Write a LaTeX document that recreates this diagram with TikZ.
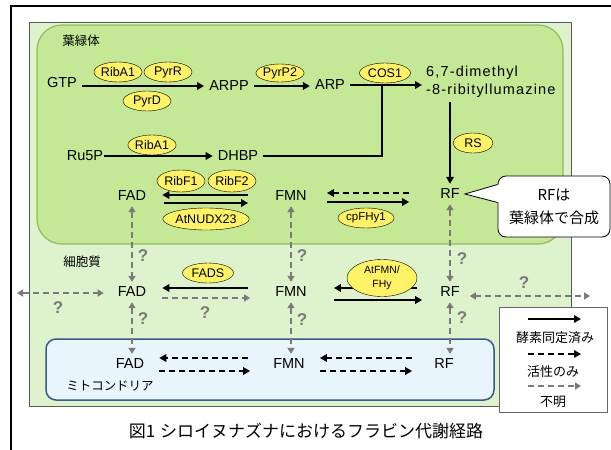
\documentclass[tikz,border=0pt]{standalone}
\usepackage{fontspec}
\setmainfont{Liberation Sans}
\newfontfamily\jpfont{Noto Sans CJK JP}
\usepackage{tikz}
\usetikzlibrary{shapes,arrows.meta,positioning,calc}
\definecolor{chloro}{HTML}{C5E896}
\definecolor{chloroedge}{HTML}{8DBE5E}
\definecolor{cyto}{HTML}{DEF3CD}
\definecolor{mito}{HTML}{E8F5FC}
\definecolor{mitoedge}{HTML}{3A5A8C}
\definecolor{enzyme}{HTML}{FFF266}
\definecolor{unk}{HTML}{7A7A7A}

\begin{document}
\begin{tikzpicture}[x=1pt, y=-1pt,
    met/.style={inner sep=5pt, font=\fontsize{14.5}{18}\selectfont},
    enz/.style={ellipse, draw, fill=enzyme, inner sep=0pt, minimum width=48pt, minimum height=20pt, font=\fontsize{12.5}{13}\selectfont},
    lbl/.style={font=\jpfont\fontsize{12.5}{15}\selectfont},
    qm/.style={font=\bfseries\fontsize{17}{17}\selectfont, text=unk},
    known/.style={line width=2pt, -{Triangle[length=7pt,width=7.5pt]}},
    active/.style={known, dash pattern=on 6pt off 4pt},
    unknown/.style={line width=2pt, draw=unk, dash pattern=on 6pt off 4pt, -{Triangle[length=6pt,width=7pt]}},
    unboth/.style={unknown, {Triangle[length=6pt,width=7pt]}-{Triangle[length=6pt,width=7pt]}}
]
    \useasboundingbox (0,0) rectangle (611,450);

    % Compartments
    \draw[line width=1.2pt] (11,450) -- (11,6) -- (611,6);
    \draw[draw=black!65, line width=0.8pt, fill=cyto] (29,22) rectangle (571,406);
    \draw[draw=chloroedge, line width=1.2pt, fill=chloro, rounded corners=25pt] (37,25) rectangle (563,244);
    \draw[draw=mitoedge, line width=1.5pt, fill=mito, rounded corners=10pt] (46,339) rectangle (494,400);
    \draw[draw=black!60, line width=0.8pt, fill=white] (499,307) rectangle (607,412);

    \node[lbl] (chlorolbl) at (81,41) {葉緑体};
    \node[lbl] (cytolbl) at (82,262) {細胞質};
    \node[lbl] (mitolbl) at (110,386) {ミトコンドリア};

    % Metabolites
    \node[met] (gtp) at (62,83) {GTP};
    \node[met] (arpp) at (229,86) {ARPP};
    \node[met] (arp) at (330,85) {ARP};
    \node[met, anchor=west, align=left, inner sep=4pt] (dml) at (422,82) {\addfontfeature{LetterSpace=8}6,7-dimethyl\\\addfontfeature{LetterSpace=8}-8-ribityllumazine};
    \node[met, inner sep=1pt] (ru5p) at (85,156) {Ru5P};
    \node[met] (dhbp) at (238,156) {DHBP};
    \node[met] (fad1) at (132,196) {FAD};
    \node[met] (fmn1) at (291,196) {FMN};
    \node[met] (rf1) at (450,194) {RF};
    \node[met] (fad2) at (132,292) {FAD};
    \node[met] (fmn2) at (291,292) {FMN};
    \node[met] (rf2) at (450,292) {RF};
    \node[met] (fad3) at (130,364) {FAD};
    \node[met] (fmn3) at (289,364) {FMN};
    \node[met] (rf3) at (444,364) {RF};
    \coordinate (merge) at (382,85);
    \coordinate (cytoL) at (17,293);
    \coordinate (cytoR) at (590,296);

    % Chloroplast pathway
    \draw[known] (gtp.east |- arpp) -- (arpp.west);
    \draw[known] (arpp.east) -- (arpp.east -| arp.west);
    \draw[known] (arp.east) -- (arp.east -| dml.west);
    \draw[line width=2pt] (dhbp.east) -| (merge);
    \draw[known] (ru5p.east) -- (dhbp.west);
    \draw[known] (dml.south -| rf1.north) -- (rf1.north);
    \draw[known] ([shift={(-22,-1)}]fmn1.west) -- ([shift={(11,-1)}]fad1.east);
    \draw[known] ([shift={(13,7)}]fad1.east) -- ([shift={(-22,7)}]fmn1.west);
    \draw[active] ([shift={(-26,-1)}]rf1.west) -- ([shift={(15,-3)}]fmn1.east);
    \draw[known] ([shift={(15,6)}]fmn1.east) -- ([shift={(-26,8)}]rf1.west);

    % Transport
    \draw[unboth] (fad1) -- (fad2);
    \draw[unboth] (fmn1) -- (fmn2);
    \draw[unboth] (rf1) -- (rf2);
    \draw[unboth] (fad2.south) -- (fad2.south |- fad3.north);
    \draw[unboth] (fmn2.south) -- (fmn2.south |- fmn3.north);
    \draw[unboth] (rf2.south) -- (rf2.south |- rf3.north);
    \draw[unboth] (cytoL) -- ([shift={(-9,1)}]fad2.west);
    \draw[unboth] ([shift={(5,4)}]rf2.east) -- (cytoR);

    % Cytoplasm
    \draw[known] ([shift={(-22,-4)}]fmn2.west) -- ([shift={(11,-4)}]fad2.east);
    \draw[unknown] ([shift={(11,6)}]fad2.east) -- ([shift={(-20,6)}]fmn2.west);
    \draw[known] ([shift={(-18,-4)}]rf2.west) -- ([shift={(22,-4)}]fmn2.east);
    \draw[known] ([shift={(22,8)}]fmn2.east) -- ([shift={(-13,8)}]rf2.west);

    % Mitochondria
    \draw[active] ([shift={(-20,-6)}]fmn3.west) -- ([shift={(10,-6)}]fad3.east);
    \draw[active] ([shift={(10,7)}]fad3.east) -- ([shift={(-18,7)}]fmn3.west);
    \draw[active] ([shift={(-17,-6)}]rf3.west) -- ([shift={(10,-6)}]fmn3.east);
    \draw[active] ([shift={(10,7)}]fmn3.east) -- ([shift={(-17,7)}]rf3.west);

    % Enzymes
    \node[enz] (riba1) at (118,72) {RibA1};
    \node[enz] (pyrr) at (168,72) {PyrR};
    \node[enz] (pyrd) at (147,101) {PyrD};
    \node[enz, minimum height=18pt] (pyrp2) at (280,73) {PyrP2};
    \node[enz, minimum width=51pt] (cos1) at (385,73) {COS1};
    \node[enz] (riba1b) at (152,145) {RibA1};
    \node[enz, minimum width=40pt] (rs) at (473,143) {RS};
    \node[enz, minimum height=22pt] (ribf1) at (181,181) {RibF1};
    \node[enz, minimum height=22pt] (ribf2) at (232,181) {RibF2};
    \node[enz, minimum width=86pt, minimum height=22pt] (atnudx) at (206,219) {AtNUDX23};
    \node[enz, minimum width=54pt, font=\fontsize{11.5}{12}\selectfont] (cpfhy) at (366,218) {cpFHy1};
    \node[enz, minimum width=51pt] (fads) at (208,273) {FADS};
    \node[enz, minimum width=70pt, minimum height=37pt, align=center, font=\fontsize{10.5}{14}\selectfont] (atfmn) at (382,278) {AtFMN/\\FHy};

    % Unknown steps
    \node[qm] (q1) at (143,256) {?};
    \node[qm] (q2) at (302,256) {?};
    \node[qm] (q3) at (462,259) {?};
    \node[qm] (q4) at (143,319) {?};
    \node[qm] (q5) at (302,320) {?};
    \node[qm] (q6) at (462,318) {?};
    \node[qm] (q7) at (58,308) {?};
    \node[qm] (q8) at (205,313) {?};
    \node[qm] (q9) at (524,283) {?};

    % Note
    \node[draw, fill=white, line width=0.8pt, rounded corners=8pt, minimum width=112pt, minimum height=61pt, align=center, font=\jpfont\fontsize{15}{23}\selectfont] (note) at (554,206.5) {RFは\\葉緑体で合成};
    \fill[white] ([shift={(1.5,-22)}]note.west) -- (rf1.east) -- ([shift={(1.5,-4)}]note.west) -- cycle;
    \draw[line width=0.8pt] ([shift={(0,-22)}]note.west) -- (rf1.east) -- ([shift={(0,-4)}]note.west);

    % Legend
    \node[lbl, font=\jpfont\fontsize{13}{15}\selectfont] (lgknown) at (555,338) {酵素同定済み};
    \node[lbl, font=\jpfont\fontsize{13}{15}\selectfont] (lgactive) at (553,372) {活性のみ};
    \node[lbl, font=\jpfont\fontsize{13}{15}\selectfont] (lgunknown) at (553,402) {不明};
    \draw[known] ([shift={(-27,-19)}]lgknown.center) -- ([shift={(26,-19)}]lgknown.center);
    \draw[active] ([shift={(-25,-18)}]lgactive.center) -- ([shift={(28,-18)}]lgactive.center);
    \draw[unknown] ([shift={(-25,-16)}]lgunknown.center) -- ([shift={(28,-16)}]lgunknown.center);

    % Caption
    \node[font=\jpfont\fontsize{17}{19}\selectfont] (caption) at (306,431) {図1\hspace{5pt}シロイヌナズナにおけるフラビン代謝経路};
\end{tikzpicture}
\end{document}
